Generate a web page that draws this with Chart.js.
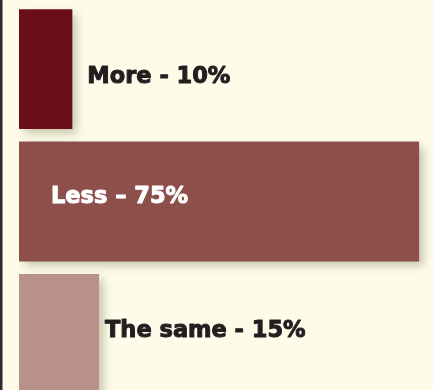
<!DOCTYPE html>
<html>
<head>
<meta charset="utf-8">
<script src="https://cdn.jsdelivr.net/npm/chart.js@4/dist/chart.umd.min.js"></script>
<style>
  html, body { margin: 0; padding: 0; background: #fefce9; overflow: hidden; }
  #wrap { position: relative; width: 433px; height: 400px; }
</style>
</head>
<body>
<div id="wrap"><canvas id="c"></canvas></div>
<script>
// ---- data ----
const categories = ["More", "Less", "The same"];
const values = [10, 75, 15];
const labelTexts = ["More - 10%", "Less \u2013 75%", "The same - 15%"];

// ---- styles ----
const barColors = ["#6a0e18", "#8c4f4a", "#b89189"];
const labelColors = ["#231f20", "#ffffff", "#231f20"];
const labelInside = [false, true, false];
const labelDx = [15, 32, 6];   // from bar end (outside) or bar start (inside)
const labelDy = [14, 1, 3];    // baseline offset from bar centre

const shadowPlugin = {
  id: 'shadow',
  beforeDatasetsDraw(chart) {
    const ctx = chart.ctx;
    ctx.save();
    ctx.shadowColor = 'rgba(110,110,70,0.38)';
    ctx.shadowBlur = 9;
    ctx.shadowOffsetX = 5;
    ctx.shadowOffsetY = 5;
  },
  afterDatasetsDraw(chart) {
    chart.ctx.restore();
  }
};

const labelPlugin = {
  id: 'labels',
  afterDraw(chart) {
    const ctx = chart.ctx;
    const meta = chart.getDatasetMeta(0);
    ctx.save();
    // left axis line
    ctx.fillStyle = '#2b2b2b';
    ctx.fillRect(0, 0, 2.5, chart.height);
    ctx.font = 'bold 22.5px "DejaVu Sans"';
    ctx.textBaseline = 'alphabetic';
    ctx.textAlign = 'left';
    ctx.lineJoin = 'round';
    ctx.lineWidth = 1;
    meta.data.forEach((bar, i) => {
      const p = bar.getProps(['x', 'y', 'base'], true);
      const x = labelInside[i] ? p.base + labelDx[i] : p.x + labelDx[i];
      ctx.fillStyle = labelColors[i];
      ctx.strokeStyle = labelColors[i];
      ctx.fillText(labelTexts[i], x, p.y + labelDy[i]);
      ctx.strokeText(labelTexts[i], x, p.y + labelDy[i]);
    });
    ctx.restore();
  }
};

new Chart(document.getElementById('c'), {
  type: 'bar',
  data: {
    labels: categories,
    datasets: [{
      data: values,
      backgroundColor: barColors,
      borderWidth: 0,
      categoryPercentage: 1,
      barPercentage: 0.906
    }]
  },
  options: {
    indexAxis: 'y',
    responsive: true,
    maintainAspectRatio: false,
    animation: false,
    layout: { padding: { left: 19, top: 3, right: 0, bottom: 0 } },
    plugins: { legend: { display: false }, tooltip: { enabled: false } },
    scales: {
      x: { display: false, min: 0, max: 77.6 },
      y: { display: false }
    }
  },
  plugins: [shadowPlugin, labelPlugin]
});
</script>
</body>
</html>
